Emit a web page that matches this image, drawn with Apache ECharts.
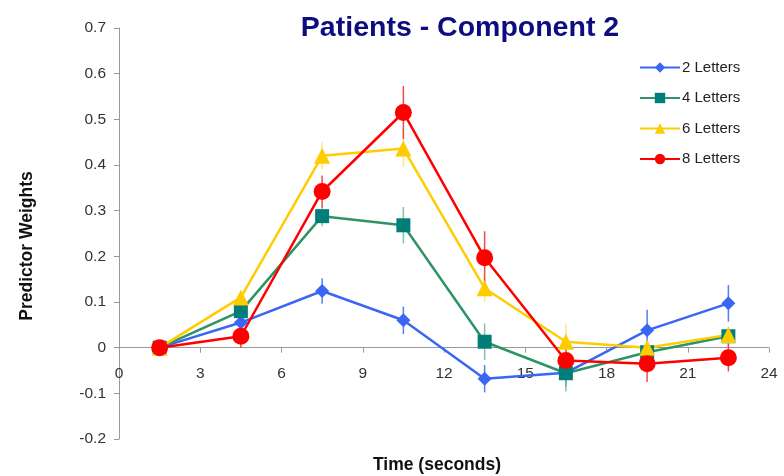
<!DOCTYPE html>
<html>
<head>
<meta charset="utf-8">
<script src="https://cdn.jsdelivr.net/npm/echarts@6/dist/echarts.min.js"></script>
<style>html,body{margin:0;padding:0;background:#fff;}#chart{width:784px;height:476px;}</style>
</head>
<body>
<div id="chart"></div>
<script>
// Data
const times = [1.5, 4.5, 7.5, 10.5, 13.5, 16.5, 19.5, 22.5];
const seriesNames = ['2 Letters', '4 Letters', '6 Letters', '8 Letters'];
const letters2 = [0, 0.055, 0.124, 0.06, -0.068, -0.055, 0.038, 0.097];
const letters4 = [0, 0.08, 0.288, 0.268, 0.013, -0.056, -0.01, 0.025];
const letters6 = [0, 0.11, 0.42, 0.436, 0.13, 0.013, 0.0, 0.028];
const letters8 = [0, 0.025, 0.342, 0.515, 0.197, -0.028, -0.035, -0.022];
const err2 = [0, 0.012, 0.028, 0.03, 0.03, 0.03, 0.045, 0.04];
const err4 = [0, 0.015, 0.022, 0.04, 0.04, 0.04, 0.02, 0.02];
const err6 = [0, 0.012, 0.03, 0.04, 0.03, 0.04, 0.015, 0.015];
const err8 = [0, 0.025, 0.035, 0.058, 0.058, 0.025, 0.04, 0.03];
const yTicks = ['-0.2', '-0.1', '0', '0.1', '0.2', '0.3', '0.4', '0.5', '0.6', '0.7'];
const xTicks = ['0', '3', '6', '9', '12', '15', '18', '21', '24'];

const values = [letters2, letters4, letters6, letters8];
const errs = [err2, err4, err6, err8];
const lineColors = ['#3a66f5', '#2e9466', '#ffcc00', '#ff0000'];
const symbolColors = ['#3a66f5', '#007f7a', '#ffcc00', '#ff0000'];
const errColors = ['#3a66f5', '#6fb79a', '#ffe277', '#ee2a2a'];
const symbols = ['diamond', 'rect', 'triangle', 'circle'];
const symbolSizes = [14, 14, 16, 17];

const chart = echarts.init(document.getElementById('chart'));
const series = [];
values.forEach((vals, i) => {
  series.push({
    type: 'custom',
    name: seriesNames[i] + ' err',
    silent: true,
    z: 1,
    data: times.map((t, k) => [t, vals[k], errs[i][k]]),
    encode: { x: 0, y: 1 },
    renderItem: function (params, api) {
      const x = api.value(0), y = api.value(1), e = api.value(2);
      const p1 = api.coord([x, y - e]);
      const p2 = api.coord([x, y + e]);
      return {
        type: 'line',
        shape: { x1: p1[0], y1: p1[1], x2: p2[0], y2: p2[1] },
        style: { stroke: errColors[i], lineWidth: 1.5, opacity: 0.85 }
      };
    }
  });
});
values.forEach((vals, i) => {
  series.push({
    type: 'line',
    name: seriesNames[i],
    z: 3,
    data: times.map((t, k) => [t, vals[k]]),
    symbol: symbols[i],
    symbolSize: symbolSizes[i],
    lineStyle: { color: lineColors[i], width: 2.5 },
    itemStyle: { color: symbolColors[i] },
    emphasis: { disabled: true }
  });
});

chart.setOption({
  animation: false,
  backgroundColor: '#fff',
  title: {
    text: 'Patients - Component 2',
    left: 455, top: 9,
    textAlign: 'center',
    textStyle: { fontFamily: 'Liberation Sans, Arial', fontSize: 28.5, fontWeight: 'bold', color: '#0d0d80' }
  },
  legend: {
    orient: 'vertical',
    left: 634, top: 55,
    itemWidth: 40, itemHeight: 13, itemGap: 15.5,
    data: seriesNames,
    textStyle: { fontFamily: 'Liberation Sans, Arial', fontSize: 15, color: '#222', padding: [0, 0, 0, -3] }
  },
  grid: { left: 119, right: 15, top: 28, bottom: 37, containLabel: false },
  xAxis: {
    type: 'value', min: 0, max: 24, interval: 3,
    offset: -91.3,
    axisLine: { onZero: false, lineStyle: { color: '#999', width: 1 } },
    axisTick: { show: true, length: 5, lineStyle: { color: '#999' } },
    axisLabel: {
      fontFamily: 'Liberation Sans, Arial', fontSize: 15.5, color: '#333', margin: 18,
      formatter: (v) => xTicks[Math.round(v / 3)]
    },
    splitLine: { show: false }
  },
  yAxis: {
    type: 'value', min: -0.2, max: 0.7, interval: 0.1,
    axisLine: { show: true, lineStyle: { color: '#999', width: 1 } },
    axisTick: { show: true, length: 5, lineStyle: { color: '#999' } },
    axisLabel: {
      fontFamily: 'Liberation Sans, Arial', fontSize: 15.5, color: '#333', margin: 13,
      formatter: (v) => yTicks[Math.round((v + 0.2) * 10)]
    },
    splitLine: { show: false }
  },
  graphic: [
    {
      type: 'text',
      x: 27, y: 246,
      rotation: Math.PI / 2,
      style: {
        text: 'Predictor Weights', font: 'bold 17.5px "Liberation Sans", Arial', fill: '#111',
        textAlign: 'center', textVerticalAlign: 'middle'
      }
    },
    {
      type: 'text',
      x: 437, y: 465,
      style: {
        text: 'Time (seconds)', font: 'bold 17.5px "Liberation Sans", Arial', fill: '#111',
        textAlign: 'center', textVerticalAlign: 'middle'
      }
    }
  ],
  series: series
});
</script>
</body>
</html>
